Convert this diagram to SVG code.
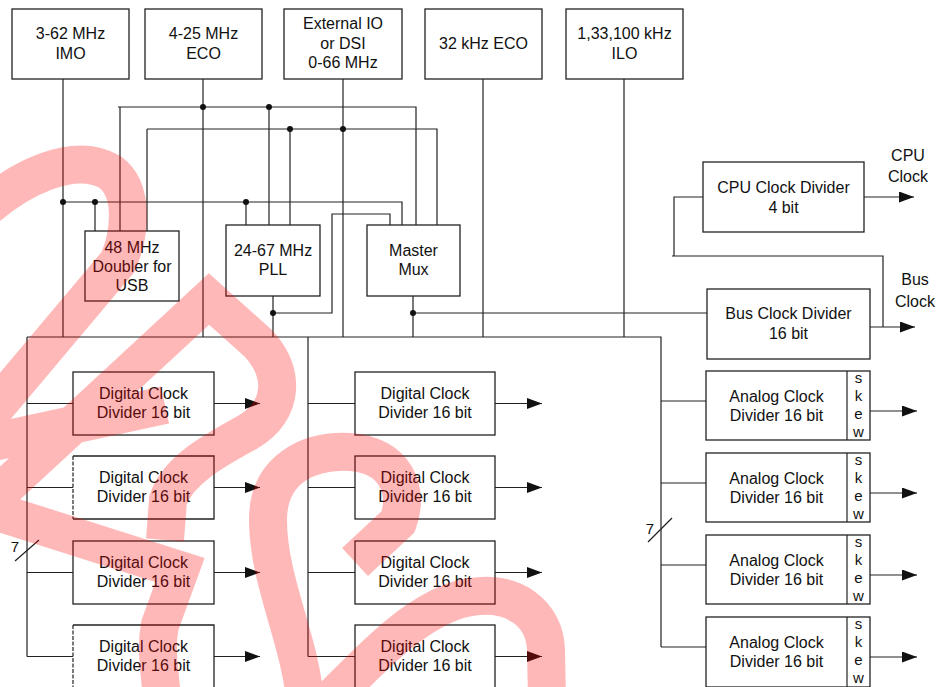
<svg xmlns="http://www.w3.org/2000/svg" width="936" height="687" viewBox="0 0 936 687">
<defs>
<style>
.b{fill:none;stroke:#222;stroke-width:1.3}
.w{fill:none;stroke:#222;stroke-width:1.2}
.a{fill:none;stroke:#222;stroke-width:1.2;marker-end:url(#ah)}
.t{font-family:"Liberation Sans",Arial,sans-serif;font-size:16px;fill:#111;text-anchor:middle}
.s{font-family:"Liberation Sans",Arial,sans-serif;font-size:15px;fill:#111;text-anchor:middle}
.d{fill:#111}
.wm{fill:none;stroke:#ff0000;stroke-opacity:0.28;stroke-width:38;stroke-linejoin:miter;stroke-miterlimit:10}
</style>
<marker id="ah" markerUnits="userSpaceOnUse" markerWidth="16" markerHeight="12" refX="15" refY="5.5" orient="auto">
<path d="M0,0 L15,5.5 L0,11 z" fill="#111"/>
</marker>
</defs>
<rect width="936" height="687" fill="#fff"/>

<g id="connectors">
<path class="w" d="M63,79 V337 M203,79 V337 M343,79 V337 M483,79 V337 M624,79 V337"/>
<path class="w" d="M118,107 H416 V225 M120,107 V231 M269,107 V225"/>
<path class="w" d="M147,129 H437 V225 M147,129 V231 M290,129 V225"/>
<path class="w" d="M63,202 H402 V225 M95,202 V231 M246,202 V225"/>
<path class="w" d="M390,225 V214 H332 V313 H273"/>
<path class="w" d="M273,296 V337 M413,296 V337 M413,313 H707"/>
<path class="w" d="M27,337 H661 V647"/>
<path class="w" d="M27,337 V656.5 M308,337 V656.5"/>
<path class="w" d="M27,403.5 H73 M27,487.5 H73 M27,572.5 H73 M27,656.5 H73"/>
<path class="w" d="M308,403.5 H355 M308,487.5 H355 M308,572.5 H355 M308,656.5 H355"/>
<path class="w" d="M661,401 H706 M661,483 H706 M661,565 H706 M661,647 H706"/>
<path class="w" d="M703,197 H674 V256 M672,256 H883 V327"/>
<line class="a" x1="864" y1="197" x2="914" y2="197"/>
<line class="a" x1="870" y1="327" x2="915" y2="327"/>
<line class="a" x1="214" y1="403.5" x2="260" y2="403.5"/>
<line class="a" x1="214" y1="487.5" x2="260" y2="487.5"/>
<line class="a" x1="214" y1="572.5" x2="260" y2="572.5"/>
<line class="a" x1="214" y1="656.5" x2="260" y2="656.5"/>
<line class="a" x1="495" y1="403.5" x2="542" y2="403.5"/>
<line class="a" x1="495" y1="487.5" x2="542" y2="487.5"/>
<line class="a" x1="495" y1="572.5" x2="542" y2="572.5"/>
<line class="a" x1="495" y1="656.5" x2="542" y2="656.5"/>
<line class="a" x1="870" y1="411" x2="917" y2="411"/>
<line class="a" x1="870" y1="493" x2="917" y2="493"/>
<line class="a" x1="870" y1="575" x2="917" y2="575"/>
<line class="a" x1="870" y1="657" x2="917" y2="657"/>
<circle class="d" cx="203" cy="107" r="3"/>
<circle class="d" cx="269" cy="107" r="3"/>
<circle class="d" cx="290" cy="129" r="3"/>
<circle class="d" cx="343" cy="129" r="3"/>
<circle class="d" cx="63" cy="202" r="3"/>
<circle class="d" cx="95" cy="202" r="3"/>
<circle class="d" cx="246" cy="202" r="3"/>
<circle class="d" cx="273" cy="313" r="3"/>
<circle class="d" cx="413" cy="313" r="3"/>
<line class="w" x1="15" y1="561" x2="39" y2="540"/>
<text class="s" x="15" y="552">7</text>
<line class="w" x1="648" y1="542" x2="672" y2="518"/>
<text class="s" x="650" y="534">7</text>
</g>

<g id="imo"><rect class="b" x="12" y="9" width="117" height="70"/><text class="t" x="70.5" y="39">3-62 MHz</text><text class="t" x="70.5" y="59">IMO</text></g>
<g id="eco"><rect class="b" x="145" y="9" width="117" height="70"/><text class="t" x="203.5" y="39">4-25 MHz</text><text class="t" x="203.5" y="59">ECO</text></g>
<g id="extio"><rect class="b" x="284" y="9" width="118" height="70"/><text class="t" x="343" y="29">External IO</text><text class="t" x="343" y="49">or DSI</text><text class="t" x="343" y="68">0-66 MHz</text></g>
<g id="eco32"><rect class="b" x="425" y="9" width="117" height="70"/><text class="t" x="483.5" y="49">32 kHz ECO</text></g>
<g id="ilo"><rect class="b" x="566" y="9" width="117" height="70"/><text class="t" x="624.5" y="39">1,33,100 kHz</text><text class="t" x="624.5" y="59">ILO</text></g>
<g id="doubler"><rect class="b" x="85" y="231" width="94" height="70"/><text class="t" x="132" y="252.5">48 MHz</text><text class="t" x="132" y="271.5">Doubler for</text><text class="t" x="132" y="290.5">USB</text></g>
<g id="pll"><rect class="b" x="226" y="225" width="94" height="71"/><text class="t" x="273" y="256">24-67 MHz</text><text class="t" x="273" y="275">PLL</text></g>
<g id="mux"><rect class="b" x="367" y="225" width="93" height="71"/><text class="t" x="413.5" y="256">Master</text><text class="t" x="413.5" y="275">Mux</text></g>
<g id="cpudiv"><rect class="b" x="703" y="162" width="161" height="70"/><text class="t" x="783.5" y="192.5">CPU Clock Divider</text><text class="t" x="783.5" y="212.5">4 bit</text></g>
<g id="cpuclk"><text class="t" x="908" y="161">CPU</text><text class="t" x="908" y="182">Clock</text></g>
<g id="busdiv"><rect class="b" x="707" y="289" width="163" height="70"/><text class="t" x="788.5" y="318.5">Bus Clock Divider</text><text class="t" x="788.5" y="338.5">16 bit</text></g>
<g id="busclk"><text class="t" x="915" y="285">Bus</text><text class="t" x="915" y="307">Clock</text></g>

<g id="dcd1-1"><rect class="b" x="73" y="372" width="141" height="63"/><text class="t" x="143.5" y="399">Digital Clock</text><text class="t" x="143.5" y="418">Divider 16 bit</text></g>
<g id="dcd1-2"><path class="b" d="M73,456 H214 V519 H73"/><line x1="73" y1="456" x2="73" y2="519" stroke="#222" stroke-width="1.2" stroke-dasharray="4 1.5"/><text class="t" x="143.5" y="483">Digital Clock</text><text class="t" x="143.5" y="502">Divider 16 bit</text></g>
<g id="dcd1-3"><rect class="b" x="73" y="541" width="141" height="63"/><text class="t" x="143.5" y="568">Digital Clock</text><text class="t" x="143.5" y="587">Divider 16 bit</text></g>
<g id="dcd1-4"><path class="b" d="M73,625 H214 V688 H73"/><line x1="73" y1="625" x2="73" y2="687" stroke="#222" stroke-width="1.2" stroke-dasharray="4 1.5"/><text class="t" x="143.5" y="652">Digital Clock</text><text class="t" x="143.5" y="671">Divider 16 bit</text></g>

<g id="dcd2-1"><rect class="b" x="355" y="372" width="140" height="63"/><text class="t" x="425" y="399">Digital Clock</text><text class="t" x="425" y="418">Divider 16 bit</text></g>
<g id="dcd2-2"><rect class="b" x="355" y="456" width="140" height="63"/><text class="t" x="425" y="483">Digital Clock</text><text class="t" x="425" y="502">Divider 16 bit</text></g>
<g id="dcd2-3"><rect class="b" x="355" y="541" width="140" height="63"/><text class="t" x="425" y="568">Digital Clock</text><text class="t" x="425" y="587">Divider 16 bit</text></g>
<g id="dcd2-4"><rect class="b" x="355" y="625" width="140" height="63"/><text class="t" x="425" y="652">Digital Clock</text><text class="t" x="425" y="671">Divider 16 bit</text></g>

<g id="acd-1"><rect class="b" x="706" y="371" width="164" height="69"/><line class="w" x1="847" y1="371" x2="847" y2="440"/><text class="t" x="776.5" y="401.5">Analog Clock</text><text class="t" x="776.5" y="420.5">Divider 16 bit</text><text class="s" x="858.5" y="383">s</text><text class="s" x="858.5" y="401">k</text><text class="s" x="858.5" y="419">e</text><text class="s" x="858.5" y="437">w</text></g>
<g id="acd-2"><rect class="b" x="706" y="453" width="164" height="69"/><line class="w" x1="847" y1="453" x2="847" y2="522"/><text class="t" x="776.5" y="483.5">Analog Clock</text><text class="t" x="776.5" y="502.5">Divider 16 bit</text><text class="s" x="858.5" y="465">s</text><text class="s" x="858.5" y="483">k</text><text class="s" x="858.5" y="501">e</text><text class="s" x="858.5" y="519">w</text></g>
<g id="acd-3"><rect class="b" x="706" y="535" width="164" height="69"/><line class="w" x1="847" y1="535" x2="847" y2="604"/><text class="t" x="776.5" y="565.5">Analog Clock</text><text class="t" x="776.5" y="584.5">Divider 16 bit</text><text class="s" x="858.5" y="547">s</text><text class="s" x="858.5" y="565">k</text><text class="s" x="858.5" y="583">e</text><text class="s" x="858.5" y="601">w</text></g>
<g id="acd-4"><rect class="b" x="706" y="617" width="164" height="70"/><line class="w" x1="847" y1="617" x2="847" y2="687"/><text class="t" x="776.5" y="647.5">Analog Clock</text><text class="t" x="776.5" y="666.5">Divider 16 bit</text><text class="s" x="858.5" y="629">s</text><text class="s" x="858.5" y="647">k</text><text class="s" x="858.5" y="665">e</text><text class="s" x="858.5" y="683">w</text></g>

<path id="watermark" class="wm" d="M-25,218 C20,175 75,152 110,172 C135,190 130,235 118,262 L-25,432 M-30,520 L209,299 L258,343 C285,372 285,410 248,432 C215,450 178,470 168,500 L165,540 M-20,445 L165,405 M-25,505 L180,570 L160,625 C155,650 160,670 162,700 M305,700 C300,640 268,580 268,520 C268,468 310,450 350,452 C395,455 410,490 398,522 L355,562 M330,700 C370,660 415,610 465,598 C515,588 545,615 546,650 L547,700"/>
</svg>
